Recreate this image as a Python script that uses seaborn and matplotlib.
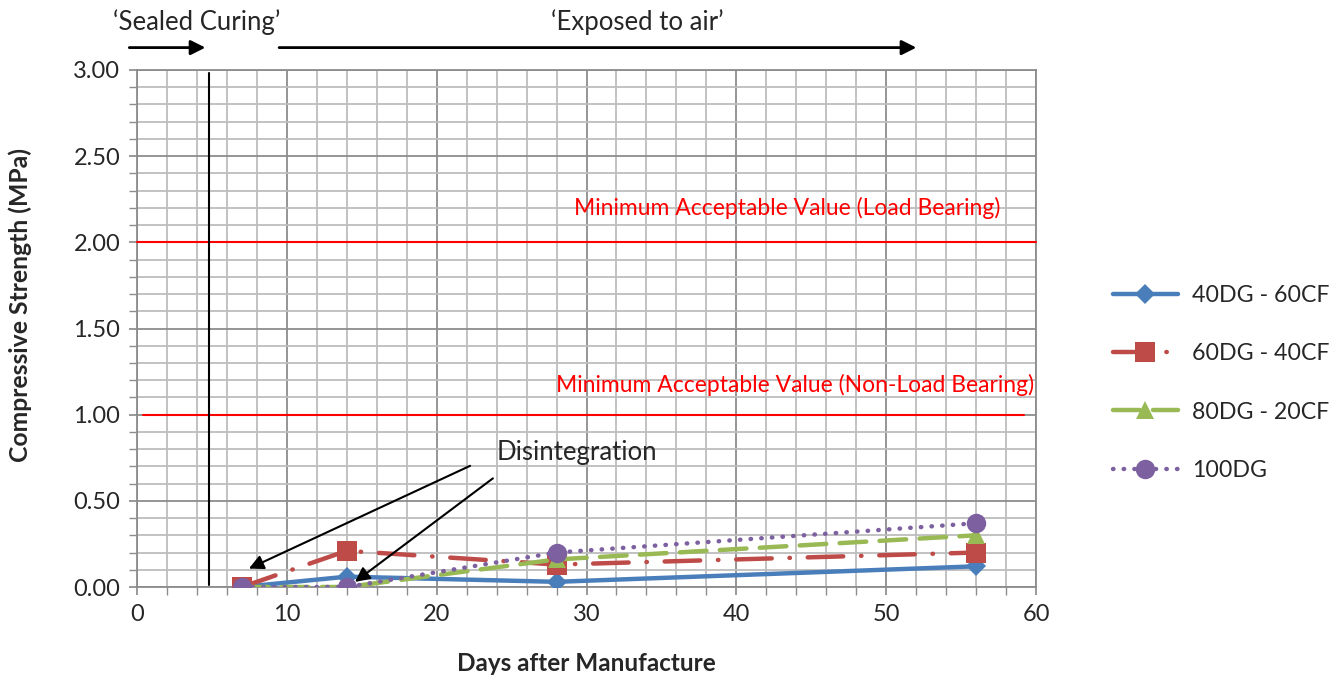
import matplotlib
matplotlib.use("Agg")
import matplotlib.pyplot as plt
import seaborn as sns
import pandas as pd
from matplotlib.ticker import MultipleLocator, FormatStrFormatter

days = [7, 14, 28, 56]
s40 = [0.00, 0.06, 0.03, 0.12]
s60 = [0.00, 0.21, 0.13, 0.20]
s80 = [0.00, 0.00, 0.16, 0.30]
s100 = [0.00, 0.00, 0.20, 0.37]
names = ["40DG - 60CF", "60DG - 40CF", "80DG - 20CF", "100DG"]
colors = ["#4A7EBB", "#BE4B48", "#98B954", "#7D60A0"]

sns.set_theme(style="white")
plt.rcParams['font.family'] = ['Lato', 'DejaVu Sans']

fig = plt.figure(figsize=(13.39, 6.8), dpi=100)
ax = fig.add_axes([137/1339, 1-587/680, (1036-137)/1339, (587-70)/680])

styles = [
    dict(linestyle="-", marker="D", markersize=10),
    dict(linestyle=(0, (8, 4, 0.1, 4)), marker="s", markersize=14),
    dict(linestyle=(0, (6, 3)), marker="^", markersize=13),
    dict(linestyle=(0, (0.1, 2.3)), marker="o", markersize=14),
]
for vals, name, c, st in zip([s40, s60, s80, s100], names, colors, styles):
    df = pd.DataFrame({"day": days, "val": vals})
    sns.lineplot(data=df, x="day", y="val", ax=ax, color=c, linewidth=3.2,
                 markeredgewidth=0, label=name, solid_capstyle="round",
                 dash_capstyle="round", zorder=5, **st)

ax.set_xlim(0, 60)
ax.set_ylim(0, 3.0)
ax.xaxis.set_major_locator(MultipleLocator(10))
ax.xaxis.set_minor_locator(MultipleLocator(2))
ax.yaxis.set_major_locator(MultipleLocator(0.5))
ax.yaxis.set_minor_locator(MultipleLocator(0.1))
ax.yaxis.set_major_formatter(FormatStrFormatter("%.2f"))
ax.grid(which="major", color="#8C8C8C", linewidth=1.3, zorder=0)
ax.grid(which="minor", color="#BDBDBD", linewidth=1.3, zorder=0)
ax.set_axisbelow(True)
for s in ax.spines.values():
    s.set_color("#8C8C8C")
    s.set_linewidth(1.3)
ax.tick_params(which="both", direction="out", color="#8C8C8C", bottom=True, left=True)
ax.tick_params(which="major", length=6, labelsize=17, pad=6)
ax.tick_params(which="minor", length=6)
ax.set_xlabel("Days after Manufacture", fontsize=17.5, fontweight="bold")
ax.set_ylabel("Compressive Strength (MPa)", fontsize=17.8, fontweight="bold")
ax.xaxis.set_label_coords(0.5, -0.125)
ax.yaxis.set_label_coords(-0.117, 0.545)

# reference lines
ax.plot([0, 60], [2.0, 2.0], color="#FF0000", linewidth=1.5, zorder=3, clip_on=False)
ax.plot([0.4, 59.2], [1.0, 1.0], color="#FF0000", linewidth=1.5, zorder=3)
ax.text(43.4, 2.2, "Minimum Acceptable Value (Load Bearing)", color="#FF0000",
        fontsize=16.5, ha="center", va="center")
ax.text(43.9, 1.17, "Minimum Acceptable Value (Non-Load Bearing)", color="#FF0000",
        fontsize=16.5, ha="center", va="center")

# vertical separator
ax.plot([4.8, 4.8], [0.01, 2.98], color="black", linewidth=1.5, zorder=4)

# top annotations
ax.annotate("", xy=(4.75, 3.13), xytext=(-0.7, 3.13), annotation_clip=False,
            arrowprops=dict(arrowstyle="-|>", color="black", lw=2, mutation_scale=22))
ax.annotate("", xy=(52.2, 3.13), xytext=(9.3, 3.13), annotation_clip=False,
            arrowprops=dict(arrowstyle="-|>", color="black", lw=2, mutation_scale=22))
ax.text(4.0, 3.28, "\u2018Sealed Curing\u2019", fontsize=18.5, ha="center", va="center", clip_on=False)
ax.text(33.4, 3.28, "\u2018Exposed to air\u2019", fontsize=18.5, ha="center", va="center", clip_on=False)

# disintegration
ax.text(24.0, 0.78, "Disintegration", fontsize=18.5, ha="left", va="center")
ax.annotate("", xy=(7.3, 0.10), xytext=(22.4, 0.71),
            arrowprops=dict(arrowstyle="-|>", color="black", lw=1.5, mutation_scale=22), zorder=6)
ax.annotate("", xy=(14.4, 0.02), xytext=(23.9, 0.64),
            arrowprops=dict(arrowstyle="-|>", color="black", lw=1.5, mutation_scale=22), zorder=6)

leg = ax.legend(loc="center left", bbox_to_anchor=(1092/1339, 1-383/680),
                bbox_transform=fig.transFigure, frameon=False, fontsize=16.7,
                handlelength=2.8, labelspacing=1.6, handletextpad=0.6)

fig.savefig("out.png", dpi=100)
